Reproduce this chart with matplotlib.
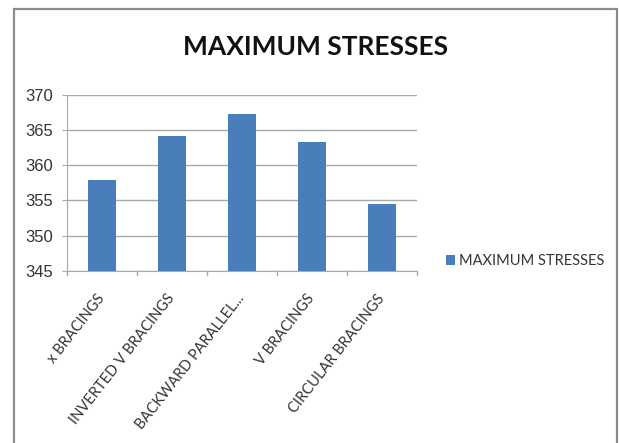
import matplotlib
matplotlib.use("Agg")
import matplotlib.pyplot as plt
from matplotlib.patches import Rectangle

categories = ["x BRACINGS", "INVERTED V BRACINGS", "BACKWARD PARALLEL...",
              "V BRACINGS", "CIRCULAR BRACINGS"]
stresses = [357.9, 364.2, 367.3, 363.3, 354.5]
y_ticks = [345, 350, 355, 360, 365, 370]
series_name = "MAXIMUM STRESSES"
title = "MAXIMUM STRESSES"

LABEL_FONT = ["Lato", "DejaVu Sans"]
NUM_FONT = ["Liberation Sans", "DejaVu Sans"]

W, H = 619, 443
fig = plt.figure(figsize=(W / 100, H / 100), dpi=100)
fig.patch.set_facecolor("white")

# outer chart frame (bottom edge runs just past the canvas)
fig.patches.append(Rectangle((14 / W, 1 - 446 / H), (617 - 14) / W, (446 - 9) / H,
                             transform=fig.transFigure, fill=False,
                             edgecolor="#8c8c8c", linewidth=1.6))

ax = fig.add_axes([66.7 / W, 1 - 270.7 / H, (417 - 66.7) / W, (270.7 - 95) / H])
bar_color = "#4a7ebb"
x = list(range(len(categories)))
ax.bar(x, [v - y_ticks[0] for v in stresses], bottom=y_ticks[0], width=0.4,
       color=bar_color, label=series_name, zorder=3)
ax.set_xlim(-0.5, len(categories) - 0.5)
ax.set_ylim(y_ticks[0], y_ticks[-1])
ax.set_yticks(y_ticks)
ax.set_yticklabels([str(t) for t in y_ticks], fontsize=12, color="#333333",
                   family=NUM_FONT)
ax.yaxis.grid(True, color="#a9a9a9", linewidth=1.0, zorder=0)
ax.tick_params(axis="y", length=3.6, color="#a9a9a9", pad=6.5)

ax.set_xticks(x)
ax.set_xticklabels(categories, rotation=52, ha="right", va="center",
                   rotation_mode="anchor", fontsize=10.5, color="#333333",
                   family=LABEL_FONT)
ax.tick_params(axis="x", length=0, pad=18)
# category boundary tick marks
for b in [i - 0.5 for i in range(len(categories) + 1)]:
    ax.plot([b, b], [0, -0.025], transform=ax.get_xaxis_transform(),
            color="#a9a9a9", linewidth=1.0, clip_on=False)

for side in ["top", "right"]:
    ax.spines[side].set_visible(False)
ax.spines["left"].set_color("#a9a9a9")
ax.spines["bottom"].set_color("#a9a9a9")

fig.text(316 / W, 1 - 47 / H, title, ha="center", va="center",
         fontsize=19, fontweight="bold", family=LABEL_FONT, color="#111111")

handles, labels = ax.get_legend_handles_labels()
leg = fig.legend(handles, labels, loc="center left",
                 bbox_to_anchor=(436 / W, 1 - 261 / H), frameon=False,
                 handlelength=0.6, handleheight=0.7, handletextpad=0.3,
                 borderpad=0.2, prop={"family": LABEL_FONT, "size": 10.5})
for t in leg.get_texts():
    t.set_color("#333333")

fig.savefig("out.png", dpi=100, facecolor="white")
